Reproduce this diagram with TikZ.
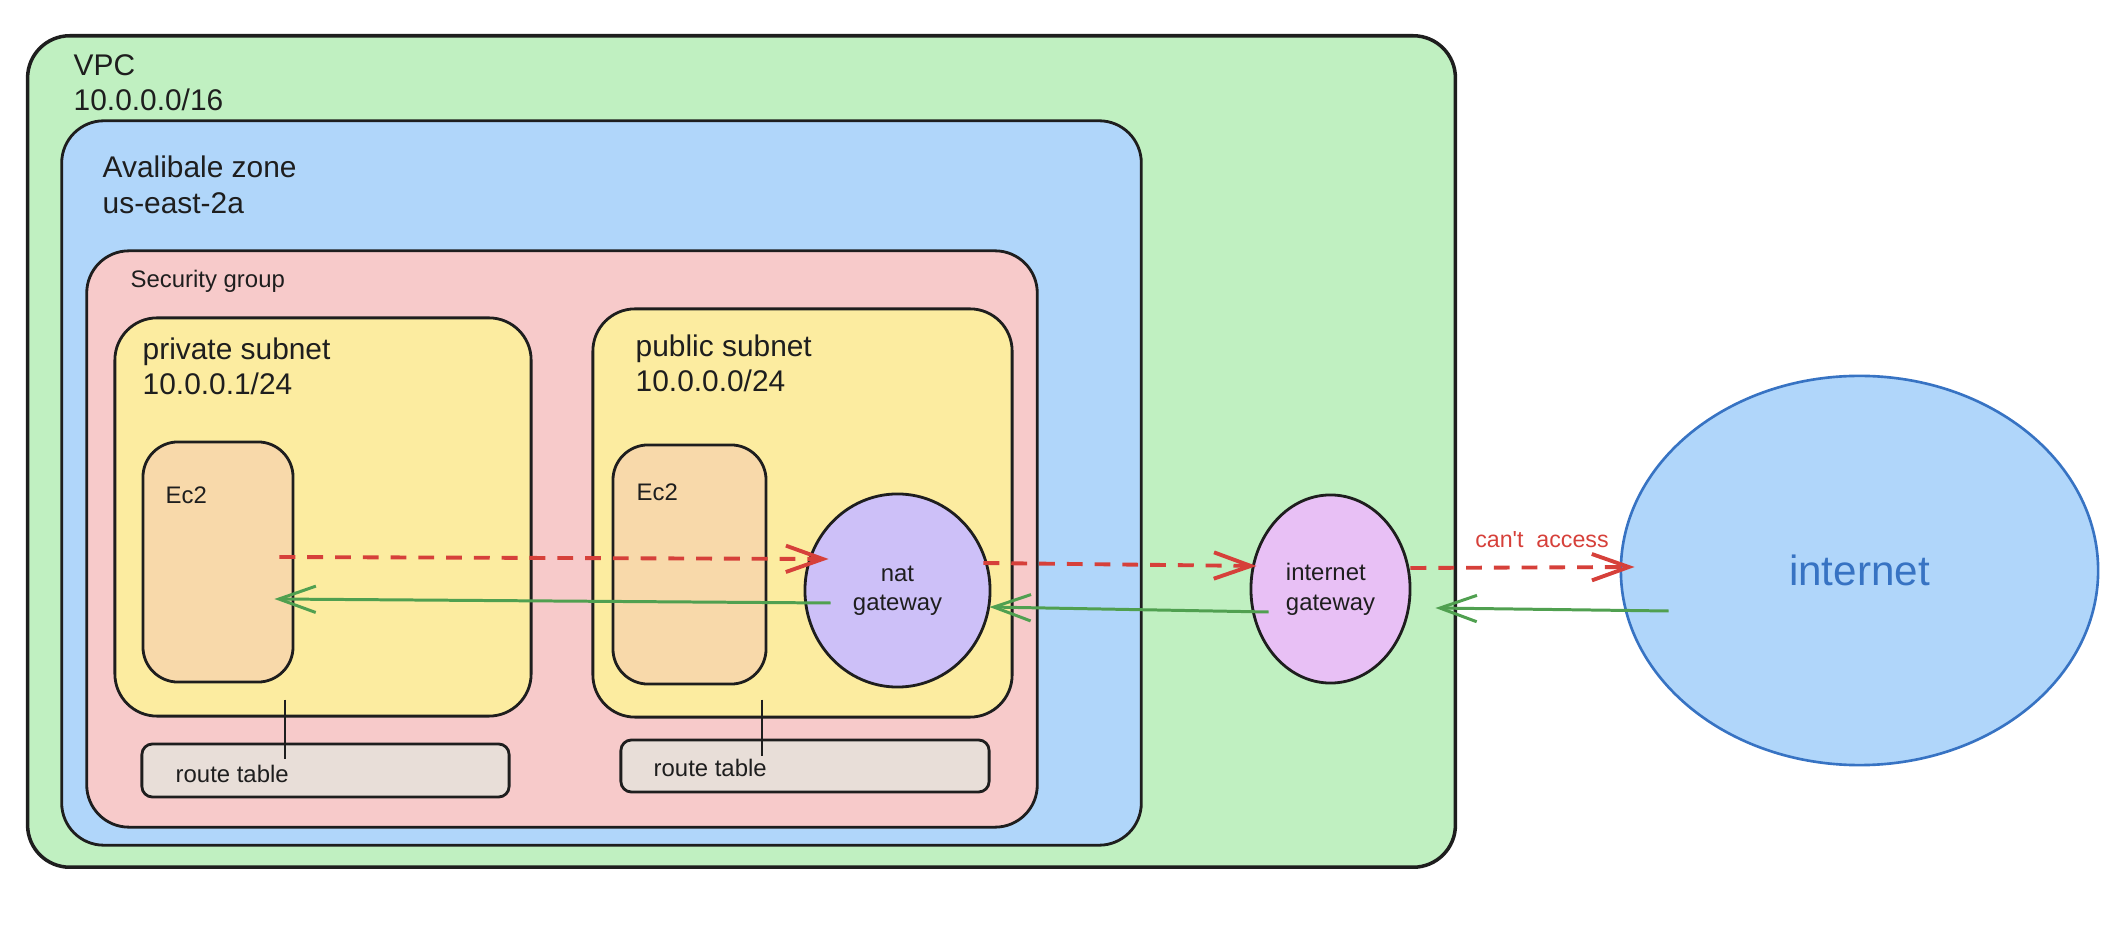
\documentclass[tikz,border=0pt]{standalone}
\usepackage{fontspec}
\setmainfont{Liberation Sans}
\usetikzlibrary{arrows.meta,positioning,calc,shapes.geometric}

\definecolor{vpcgreen}{RGB}{192,240,193}
\definecolor{zoneblue}{RGB}{176,214,250}
\definecolor{sgpink}{RGB}{247,202,202}
\definecolor{subyellow}{RGB}{252,236,160}
\definecolor{ec2orange}{RGB}{248,217,170}
\definecolor{natviolet}{RGB}{205,192,248}
\definecolor{igwpurple}{RGB}{232,192,245}
\definecolor{rtgrey}{RGB}{232,222,216}
\definecolor{netblue}{RGB}{55,115,195}
\definecolor{inkblack}{RGB}{30,30,30}
\definecolor{nogored}{RGB}{214,64,58}
\definecolor{replygreen}{RGB}{80,160,80}

\begin{document}
\begin{tikzpicture}[x=0.01cm, y=-0.01cm,
  box/.style={rectangle, draw=inkblack, line width=0.8pt, rounded corners=12pt},
  gw/.style={ellipse, draw=inkblack, line width=0.8pt, text=inkblack, font=\fontsize{6.8}{8.3}\selectfont},
  biglbl/.style={anchor=north west, inner sep=0, align=left, text=inkblack, font=\fontsize{8.5}{10}\selectfont},
  smalllbl/.style={inner sep=0, text=inkblack, font=\fontsize{6.8}{8.3}\selectfont},
  nogo/.style={draw=nogored, line width=1.1pt, dash pattern=on 4.5pt off 3.4pt, -{Straight Barb[length=10.5pt,width=7.5pt]}},
  reply/.style={draw=replygreen, line width=0.85pt, -{Straight Barb[length=10.5pt,width=7.5pt]}}]
\useasboundingbox (0,0) rectangle (2124,928);

% vpc box
\node[box, fill=vpcgreen, line width=1pt, minimum width=14.27cm, minimum height=8.31cm, name=vpc] at (741.5,451.5) {};
\node[biglbl, name=vpc_label] at (73,54) {VPC\\10.0.0.0/16};

% zone box
\node[box, fill=zoneblue, minimum width=10.79cm, minimum height=7.24cm, name=zone] at (601.5,483) {};
\node[biglbl, name=zone_label] at (102,155.5) {Avalibale zone\\us-east-2a};

% security group box
\node[box, fill=sgpink, minimum width=9.5cm, minimum height=5.76cm, name=sg] at (562,539) {};
\node[smalllbl, anchor=base west, name=sg_label] at (130,288) {Security group};

% subnets
\node[box, fill=subyellow, minimum width=4.16cm, minimum height=3.98cm, name=privsub] at (323,517) {};
\node[biglbl, name=privsub_label] at (142,337) {private subnet\\10.0.0.1/24};
\node[box, fill=subyellow, minimum width=4.19cm, minimum height=4.08cm, name=pubsub] at (802.5,513) {};
\node[biglbl, name=pubsub_label] at (635,334) {public subnet\\10.0.0.0/24};

% ec2 boxes
\node[box, fill=ec2orange, rounded corners=10pt, minimum width=1.5cm, minimum height=2.4cm, name=ec2priv] at (218,562) {};
\node[smalllbl, anchor=base west, name=ec2priv_label] at (165,504) {Ec2};
\node[box, fill=ec2orange, rounded corners=10pt, minimum width=1.53cm, minimum height=2.39cm, name=ec2pub] at (689.5,564.5) {};
\node[smalllbl, anchor=base west, name=ec2pub_label] at (636,501) {Ec2};

% route tables
\node[box, fill=rtgrey, rounded corners=3pt, minimum width=3.67cm, minimum height=0.53cm, name=rtpriv] at (325.5,770.5) {};
\node[smalllbl, anchor=base west, name=rtpriv_label] at (175,782) {route table};
\node[box, fill=rtgrey, rounded corners=3pt, minimum width=3.68cm, minimum height=0.52cm, name=rtpub] at (805,766) {};
\node[smalllbl, anchor=base west, name=rtpub_label] at (653,777) {route table};

% gateways
\node[gw, fill=natviolet, align=center, minimum width=1.85cm, minimum height=1.93cm, name=nat] at (897.5,590.5) {nat\\gateway};
\node[gw, fill=igwpurple, align=left, font=\fontsize{6.8}{8.5}\selectfont, minimum width=1.53cm, minimum height=1.88cm, name=igw] at (1330.5,589) {internet\\gateway};

% internet
\node[ellipse, draw=netblue, line width=0.75pt, fill=zoneblue, text=netblue, font=\fontsize{12}{14}\selectfont, minimum width=4.77cm, minimum height=3.89cm, name=internet] at (1859.5,570.5) {internet};

% subnet to route table
\draw[draw=inkblack, line width=0.6pt] ($(privsub.south)+(-38,-18)$) -- ($(rtpriv.north)+(-40.5,16)$);
\draw[draw=inkblack, line width=0.6pt] ($(pubsub.south)+(-40.5,-19)$) -- ($(rtpub.north)+(-43,17)$);

% outgoing arrows
\draw[nogo] ($(ec2priv.east)+(-15,-5)$) -- ($(nat.west)+(25,-31.5)$);
\draw[nogo] ($(nat.east)+(-8,-27.5)$) -- ($(igw.west)+(7,-23)$);
\draw[nogo] ($(igw.east)+(-1,-21)$) -- node[pos=0.587, above=5.8pt, inner sep=0, anchor=base, text=nogored, font=\fontsize{6.6}{8}\selectfont] {can\textquotesingle t\ \ access} ($(internet.west)+(15,-3.5)$);

% return arrows
\draw[reply] ($(internet.west)+(49,40.5)$) -- ($(igw.east)+(24,19)$);
\draw[reply] ($(igw.west)+(19,23)$) -- ($(nat.east)+(-2,16.5)$);
\draw[reply] ($(nat.west)+(27,12.5)$) -- ($(ec2priv.east)+(-20,37)$);
\end{tikzpicture}
\end{document}
